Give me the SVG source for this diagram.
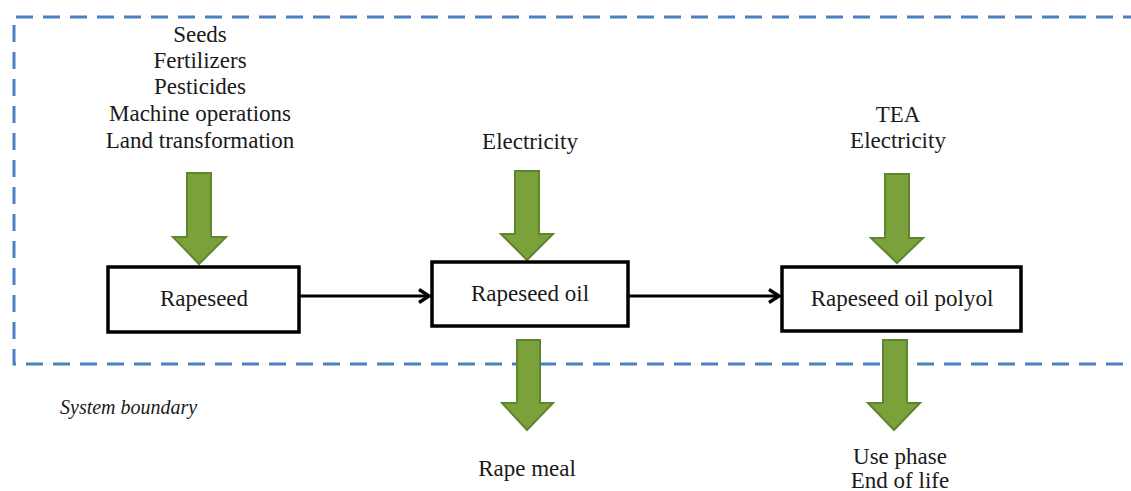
<svg xmlns="http://www.w3.org/2000/svg" width="1131" height="491" viewBox="0 0 1131 491">
<defs>
<style>
.t{font-family:"Liberation Serif","Times New Roman",serif;font-size:23px;fill:#1a1a1a;text-anchor:middle}
.box{fill:#fff;stroke:#000;stroke-width:3.5}
.ga{fill:#7ba23a;stroke:#5f8530;stroke-width:2}
.conn{stroke:#000;stroke-width:3.2;fill:none}
.bd{fill:none;stroke:#4a80c4;stroke-width:3;stroke-dasharray:17 10}
</style>
<marker id="ah" viewBox="0 0 14 16" refX="12" refY="8" markerWidth="14" markerHeight="16" markerUnits="userSpaceOnUse" orient="auto">
<path d="M2,1.5 L12,8 L2,14.5" fill="none" stroke="#000" stroke-width="3.4"/>
</marker>
</defs>
<rect width="1131" height="491" fill="#fff"/>
<g id="boundary">
<path class="bd" d="M1140,17 L14,17 L14,364 L1140,364"/>
<text x="60" y="414" class="t" style="text-anchor:start;font-style:italic;font-size:20px">System boundary</text>
</g>
<g id="inputs1">
<text class="t" x="200" y="42">Seeds</text>
<text class="t" x="200" y="68">Fertilizers</text>
<text class="t" x="200" y="94">Pesticides</text>
<text class="t" x="200" y="121">Machine operations</text>
<text class="t" x="200" y="148">Land transformation</text>
<path class="ga" d="M187,173 L211,173 L211,237 L226,237 L199,264 L173,237 L187,237 Z"/>
</g>
<g id="inputs2">
<text class="t" x="530" y="149">Electricity</text>
<path class="ga" d="M515,171 L539,171 L539,234 L553,234 L527,260 L501,234 L515,234 Z"/>
</g>
<g id="inputs3">
<text class="t" x="898" y="122">TEA</text>
<text class="t" x="898" y="148">Electricity</text>
<path class="ga" d="M885,174 L909,174 L909,238 L923,238 L897,263 L871,238 L885,238 Z"/>
</g>
<g id="rapeseed">
<rect class="box" x="108" y="267" width="191" height="65"/>
<text class="t" x="204" y="306">Rapeseed</text>
</g>
<g id="rapeseed-oil">
<rect class="box" x="432" y="262" width="196" height="64"/>
<text class="t" x="530" y="301">Rapeseed oil</text>
</g>
<g id="polyol">
<rect class="box" x="782" y="267" width="239" height="64"/>
<text class="t" x="902" y="306">Rapeseed oil polyol</text>
</g>
<g id="output1">
<path class="ga" d="M517,340 L540,340 L540,403 L553,403 L527,430 L502,403 L517,403 Z"/>
<text class="t" x="527" y="476">Rape meal</text>
</g>
<g id="output2">
<path class="ga" d="M883,340 L907,340 L907,403 L920,403 L894,430 L868,403 L883,403 Z"/>
<text class="t" x="900" y="464">Use phase</text>
<text class="t" x="900" y="488">End of life</text>
</g>
<g id="connectors">
<line class="conn" x1="300" y1="296" x2="429" y2="296" marker-end="url(#ah)"/>
<line class="conn" x1="629" y1="296" x2="779" y2="296" marker-end="url(#ah)"/>
</g>
</svg>
